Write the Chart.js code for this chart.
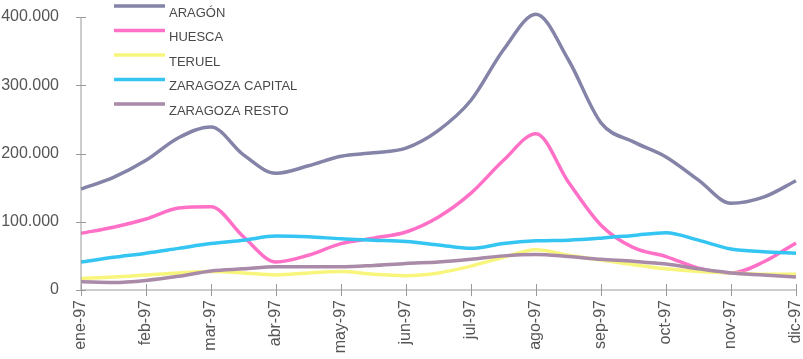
<!DOCTYPE html>
<html>
<head>
<meta charset="utf-8">
<script src="https://cdn.jsdelivr.net/npm/chart.js@4/dist/chart.umd.min.js"></script>
<style>
  html, body { margin: 0; padding: 0; background: #fff; }
  #wrap { width: 803px; height: 359px; position: relative; }
</style>
</head>
<body>
<div id="wrap"><canvas id="chartLine"></canvas></div>
<script>
const months = ["ene-97", "feb-97", "mar-97", "abr-97", "may-97", "jun-97",
  "jul-97", "ago-97", "sep-97", "oct-97", "nov-97", "dic-97"];

// readings every half month (0 = ene-97, 0.5 = mid ene, ... 11 = dic-97)
const steps = [0, 0.5, 1, 1.5, 2, 2.5, 3, 3.5, 4, 4.5, 5, 5.5, 6, 6.5, 7, 7.5, 8, 8.5, 9, 9.5, 10, 10.5, 11];

const aragon = [148000, 165000, 190000, 223000, 239000, 198000, 171000, 182000, 196000, 201000, 208000, 234000,
  278000, 352000, 404000, 337000, 245000, 217000, 195000, 161000, 127000, 136000, 160000];
const huesca = [83000, 92000, 104000, 120000, 122000, 78000, 41000, 51000, 68000, 76000, 85000, 107000,
  142000, 190000, 229000, 158000, 95000, 62000, 49000, 32000, 25000, 41000, 69000];
const teruel = [17000, 19000, 22000, 25000, 27000, 25000, 22000, 25000, 27000, 23000, 21000, 25000,
  35000, 48000, 59000, 51000, 44000, 37000, 31000, 27000, 25000, 23000, 23000];
const zgzCapital = [41000, 48000, 54000, 61000, 68000, 73000, 79000, 78000, 75000, 73000, 71000, 66000,
  61000, 68000, 72000, 73000, 76000, 80000, 84000, 73000, 60000, 56000, 54000];
const zgzResto = [12000, 11000, 14000, 20000, 28000, 31000, 34000, 34000, 34000, 36000, 39000, 41000,
  45000, 50000, 52000, 49000, 45000, 42000, 38000, 31000, 25000, 22000, 19000];

const yTicks = [0, 100000, 200000, 300000, 400000];

function pts(values) {
  return values.map((v, i) => ({ x: steps[i], y: v }));
}

function fmt(v) {
  return v.toString().replace(/\B(?=(\d{3})+(?!\d))/g, ".");
}

const data = {
  datasets: [
    { label: "ARAGÓN", borderColor: "#8483a8", data: pts(aragon) },
    { label: "HUESCA", borderColor: "#ff70c6", data: pts(huesca) },
    { label: "TERUEL", borderColor: "#f8f57c", data: pts(teruel) },
    { label: "ZARAGOZA CAPITAL", borderColor: "#34c5f2", data: pts(zgzCapital) },
    { label: "ZARAGOZA RESTO", borderColor: "#a98aa8", data: pts(zgzResto) },
  ].map(d => Object.assign(d, {
    backgroundColor: d.borderColor,
    borderWidth: 3.5,
    pointRadius: 0,
    fill: false,
    cubicInterpolationMode: "monotone",
    clip: false,
  })).reverse(),
};

// legend: line above, label below-right, like the original
const legendPlugin = {
  id: "sideLegend",
  afterDraw(chart) {
    const ctx = chart.ctx;
    const items = chart.data.datasets.slice().reverse();
    ctx.save();
    ctx.font = "13px 'Liberation Sans', Arial, sans-serif";
    ctx.textBaseline = "middle";
    items.forEach((d, i) => {
      const y = 6 + i * 24.5;
      ctx.strokeStyle = d.borderColor;
      ctx.lineWidth = 3.5;
      ctx.beginPath();
      ctx.moveTo(114, y);
      ctx.lineTo(165, y);
      ctx.stroke();
      ctx.fillStyle = "#4a4a4a";
      ctx.fillText(d.label, 169, y + 7);
    });
    ctx.restore();
  }
};

// tick marks crossing the axes
const crossTicks = {
  id: "crossTicks",
  afterDatasetsDraw(chart) {
    const ctx = chart.ctx;
    const xs = chart.scales.x, ys = chart.scales.y;
    ctx.save();
    ctx.strokeStyle = "#9a9a9a";
    ctx.lineWidth = 1;
    ctx.beginPath();
    ctx.moveTo(xs.left, ys.top);
    ctx.lineTo(xs.left, ys.bottom);
    ctx.lineTo(xs.right, ys.bottom);
    yTicks.forEach(v => {
      const y = Math.round(ys.getPixelForValue(v)) + 0.5;
      ctx.moveTo(xs.left - 5, y);
      ctx.lineTo(xs.left + 5, y);
    });
    months.forEach((m, i) => {
      const x = Math.round(xs.getPixelForValue(i)) + 0.5;
      ctx.moveTo(x, ys.bottom - 6);
      ctx.lineTo(x, ys.bottom + 6);
    });
    ctx.stroke();
    ctx.restore();
  }
};

const config = {
  type: "line",
  data,
  options: {
    responsive: true,
    maintainAspectRatio: false,
    animation: false,
    layout: { padding: { top: 17, right: 7, left: 0, bottom: 0 } },
    plugins: { legend: { display: false }, tooltip: { enabled: false } },
    scales: {
      x: {
        type: "linear",
        min: 0,
        max: 11,
        afterBuildTicks: s => { s.ticks = months.map((m, i) => ({ value: i })); },
        afterFit: s => { s.height = 69; s.paddingLeft = 0; s.paddingRight = 0; },
        grid: { display: false },
        border: { display: false },
        ticks: {
          color: "#555",
          font: { size: 16, family: "'Liberation Sans', Arial, sans-serif" },
          minRotation: 90,
          maxRotation: 90,
          padding: 2,
          autoSkip: false,
          callback: v => months[v],
        },
      },
      y: {
        min: 0,
        max: 400000,
        afterBuildTicks: s => { s.ticks = yTicks.map(v => ({ value: v })); },
        afterFit: s => { s.width = 81; s.paddingTop = 0; s.paddingBottom = 0; },
        grid: { display: false },
        border: { display: false },
        ticks: {
          color: "#555",
          font: { size: 16, family: "'Liberation Sans', Arial, sans-serif" },
          padding: 14,
          callback: v => fmt(v),
        },
      },
    },
  },
  plugins: [crossTicks, legendPlugin],
};

var chartLine = new Chart(document.getElementById("chartLine"), config);
</script>
</body>
</html>
